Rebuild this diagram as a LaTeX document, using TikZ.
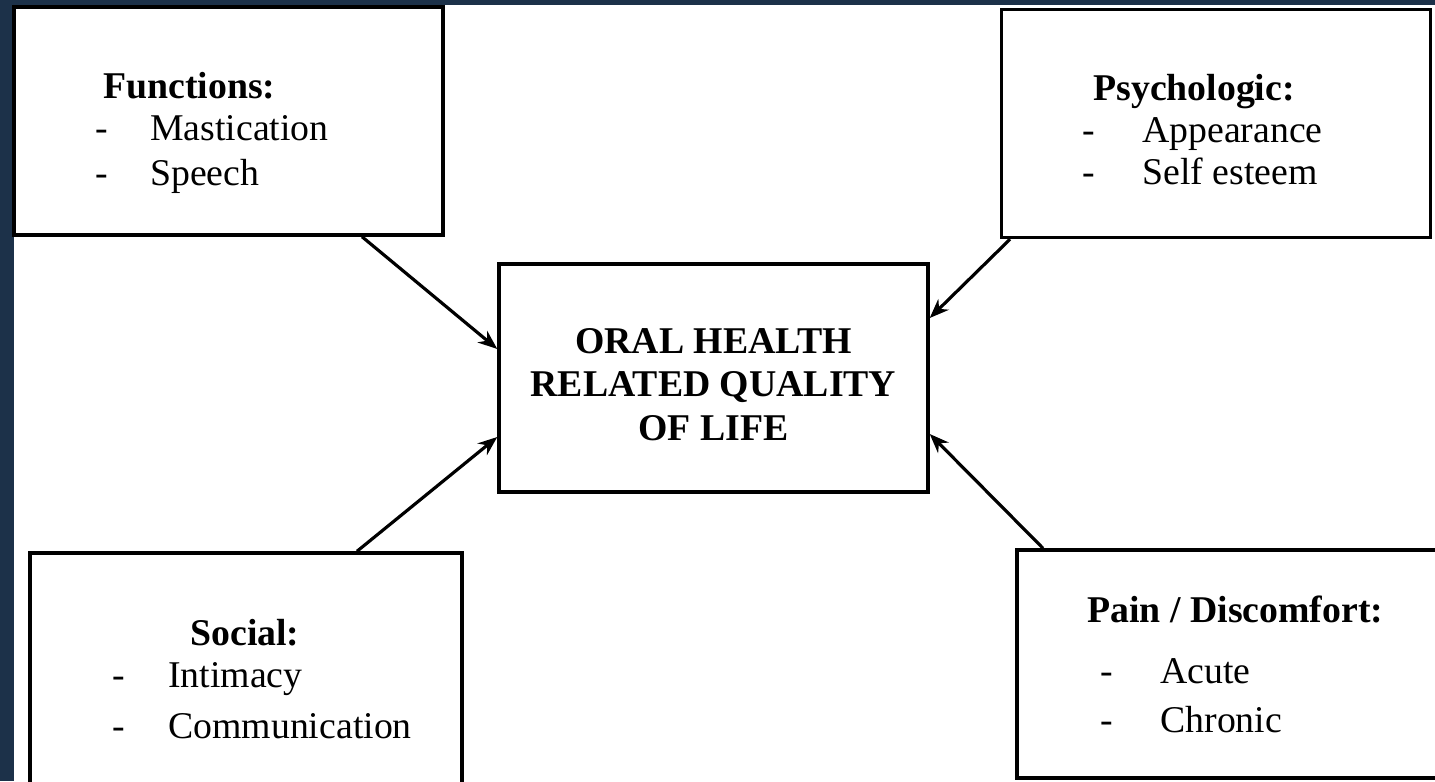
\documentclass[tikz,border=0pt]{standalone}
\usepackage{fontspec}
\setmainfont{Liberation Serif}
\usetikzlibrary{arrows.meta,calc}
\definecolor{slate}{HTML}{1C3149}
\tikzset{
	card/.style={draw=black, line width=2pt, fill=white, minimum width=8.58cm, minimum height=4.56cm, inner sep=0pt},
	cardtext/.style={anchor=base west, inner sep=0pt, font=\fontsize{21.5}{24}\selectfont},
	link/.style={line width=1.8pt, -{Stealth[length=11pt,width=8.5pt]}},
}
\newcommand{\dashitem}[2]{\makebox[#1][l]{-}#2}

\begin{document}
\begin{tikzpicture}[x=0.02cm, y=-0.02cm]
		%%%%% START %%%%%
		
		\clip (0,0) rectangle (1435,781);
		\fill[slate] (0,0) rectangle (1435,781);
		\fill[white] (14,5) rectangle (1435,781);
		
		\node[card] (fun) at (228.5,121) {};
		\node[card] (psy) at (1216,123.5) {};
		\node[card, minimum width=8.64cm, minimum height=5.2cm] (soc) at (246,683) {};
		\node[card] (pain) at (1231.5,664) {};
		\node[card] (main) at (713.5,378) {};
		
		\node[cardtext] (funtxt) at (95,98) {\begin{tabular}[t]{@{}l@{}}
			\hspace*{0.16cm}\textbf{Functions:}\\
			\dashitem{1.1cm}{Mastication}\\[0.06cm]
			\dashitem{1.1cm}{Speech}
		\end{tabular}};
		\node[cardtext] (psytxt) at (1082,100) {\begin{tabular}[t]{@{}l@{}}
			\hspace*{0.22cm}\textbf{Psychologic:}\\
			\dashitem{1.2cm}{Appearance}\\
			\dashitem{1.2cm}{Self esteem}
		\end{tabular}};
		\node[cardtext] (soctxt) at (112,645) {\begin{tabular}[t]{@{}l@{}}
			\hspace*{1.56cm}\textbf{Social:}\\
			\dashitem{1.12cm}{Intimacy}\\[0.18cm]
			\dashitem{1.12cm}{Communication}
		\end{tabular}};
		\node[cardtext] (paintxt) at (1087,622) {\begin{tabular}[t]{@{}l@{}}
			\textbf{Pain / Discomfort:}\\[0.38cm]
			\hspace*{0.26cm}\dashitem{1.2cm}{Acute}\\[0.14cm]
			\hspace*{0.26cm}\dashitem{1.2cm}{Chronic}
		\end{tabular}};
		
		\node[anchor=base, inner sep=0pt, font=\bfseries\fontsize{21.5}{25}\selectfont] (maintxt) at (713.5,353) {\begin{tabular}[t]{@{}c@{}}
			ORAL HEALTH\\
			RELATED QUALITY\\
			OF LIFE
		\end{tabular}};
		
		\draw[link] (362,0 |- fun.south) -- (main.west |- 0,349);
		\draw[link] (1010,0 |- psy.south) -- (main.east |- 0,318);
		\draw[link] (357,0 |- soc.north) -- (main.west |- 0,437);
		\draw[link] (1043,0 |- pain.north) -- (main.east |- 0,434);
		
		%%%%% END %%%%%
\end{tikzpicture}
\end{document}
